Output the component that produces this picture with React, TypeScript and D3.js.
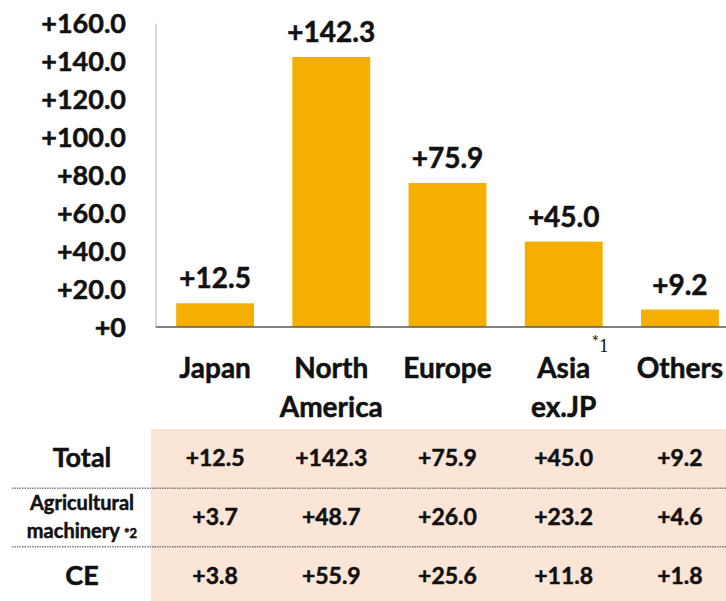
import { useRef, useEffect } from "react";
import * as d3 from "d3";

const regionLines = [["Japan"], ["North", "America"], ["Europe"], ["Asia", "ex.JP"], ["Others"]];
const regions = regionLines.map((l) => l.join(" "));
const totalValues = [12.5, 142.3, 75.9, 45.0, 9.2];
const agriValues = [3.7, 48.7, 26.0, 23.2, 4.6];
const ceValues = [3.8, 55.9, 25.6, 11.8, 1.8];
const yTicks = [0, 20, 40, 60, 80, 100, 120, 140, 160];
const rowNames = ["Total", "Agricultural machinery", "CE"];

const FONT = "Lato, 'Open Sans', sans-serif";
const BAR = "#F5AF00";
const PEACH = "#FBE5D6";
const INK = "#111";

const fmt = (v: number) => (v === 0 ? "+0" : "+" + v.toFixed(1));

const App = () => {
    const svgRef = useRef<SVGSVGElement>(null);

    useEffect(() => {
        const width = 726;
        const height = 601;

        const svg = d3.select(svgRef.current);
        svg.selectAll("*").remove();
        svg.attr("width", width).attr("height", height);

        // one band scale shared by bars, category labels and table columns
        const x = d3.scaleBand().domain(regions).range([157, 738]).paddingInner(0.33).paddingOuter(0.165);
        const y = d3.scaleLinear().domain([0, 160]).range([327, 23.4]);
        const cx = (i: number) => x(regions[i])! + x.bandwidth() / 2;

        // bold text helper (slight stroke to get the heavy look)
        const boldText = (sel: any, size: number) =>
            sel.style("font-family", FONT)
                .style("font-weight", "bold")
                .style("font-size", size + "px")
                .style("fill", INK)
                .style("stroke", INK)
                .style("stroke-width", "0.5px");

        // table background
        const tableTop = 429;
        svg.append("rect")
            .attr("x", 151)
            .attr("y", tableTop)
            .attr("width", width - 151)
            .attr("height", height - tableTop)
            .attr("fill", PEACH);

        // y axis line
        svg.append("line")
            .attr("x1", 156).attr("x2", 156)
            .attr("y1", y(160)).attr("y2", y(0))
            .attr("stroke", "#BFBFBF").attr("stroke-width", 1.2);

        // y tick labels
        boldText(
            svg.append("g")
                .selectAll("text")
                .data(yTicks)
                .join("text")
                .attr("x", 126)
                .attr("y", (d) => y(d))
                .attr("dy", "0.36em")
                .attr("text-anchor", "end")
                .text(fmt),
            27
        );

        // bars
        svg.append("g")
            .selectAll("rect")
            .data(totalValues)
            .join("rect")
            .attr("x", (_, i) => x(regions[i])!)
            .attr("y", (d) => y(d))
            .attr("width", x.bandwidth())
            .attr("height", (d) => y(0) - y(d))
            .attr("fill", BAR);

        svg.append("line")
            .attr("x1", 156).attr("x2", width)
            .attr("y1", y(0)).attr("y2", y(0))
            .attr("stroke", "#595959").attr("stroke-width", 1.5);

        // value labels above bars
        boldText(
            svg.append("g")
                .selectAll("text")
                .data(totalValues)
                .join("text")
                .attr("x", (_, i) => cx(i))
                .attr("y", (d) => y(d) - 15)
                .attr("text-anchor", "middle")
                .text(fmt),
            28
        );

        // category labels
        const cat = boldText(
            svg.append("g")
                .selectAll("text")
                .data(regionLines)
                .join("text")
                .attr("x", (_, i) => cx(i))
                .attr("y", 378)
                .attr("text-anchor", "middle"),
            28
        );
        cat.each(function (this: SVGTextElement, lines: string[]) {
            const t = d3.select(this);
            lines.forEach((l, j) => {
                t.append("tspan")
                    .attr("x", t.attr("x"))
                    .attr("dy", j === 0 ? 0 : 39)
                    .text(l);
            });
        });

        // footnote *1 next to Asia
        const note1 = svg.append("text")
            .attr("x", cx(3) + 28)
            .attr("y", 352)
            .style("fill", INK);
        note1.append("tspan")
            .attr("dy", -4)
            .style("font-family", FONT)
            .style("font-size", "17px")
            .text("*");
        note1.append("tspan")
            .attr("dy", 4)
            .style("font-family", "'DejaVu Serif', serif")
            .style("font-size", "16px")
            .text("1");

        // table rows
        const rows = d3.scaleBand().domain(rowNames).range([tableTop, 605]);
        const rowMid = (name: string) => rows(name)! + rows.bandwidth() / 2;

        // dotted separators
        svg.append("g")
            .selectAll("line")
            .data(rowNames.slice(1))
            .join("line")
            .attr("x1", 12).attr("x2", width)
            .attr("y1", (d) => rows(d)! + 0.5)
            .attr("y2", (d) => rows(d)! + 0.5)
            .attr("stroke", "#444")
            .attr("stroke-width", 1)
            .attr("stroke-dasharray", "1.5 1");

        const rowHead = (name: string, yy: number, size: number) =>
            boldText(
                svg.append("text")
                    .attr("x", 82)
                    .attr("y", yy)
                    .attr("text-anchor", "middle")
                    .text(name),
                size
            );

        rowHead("Total", rowMid("Total") + 9, 27);
        rowHead("CE", rowMid("CE") + 9, 27);
        rowHead("Agricultural", rowMid("Agricultural machinery") - 7, 20);
        const mach = rowHead("", rowMid("Agricultural machinery") + 21, 20);
        mach.append("tspan").text("machinery ");
        mach.append("tspan").style("font-size", "13px").text("*2");

        const tableData = [totalValues, agriValues, ceValues];
        tableData.forEach((vals, r) => {
            boldText(
                svg.append("g")
                    .selectAll("text")
                    .data(vals)
                    .join("text")
                    .attr("x", (_, i) => cx(i))
                    .attr("y", rowMid(rowNames[r]) + 8)
                    .attr("text-anchor", "middle")
                    .text(fmt),
                23
            );
        });
    }, []);

    return <svg ref={svgRef} style={{ position: "absolute", left: 0, top: 0, display: "block" }}></svg>;
};

export default App;
